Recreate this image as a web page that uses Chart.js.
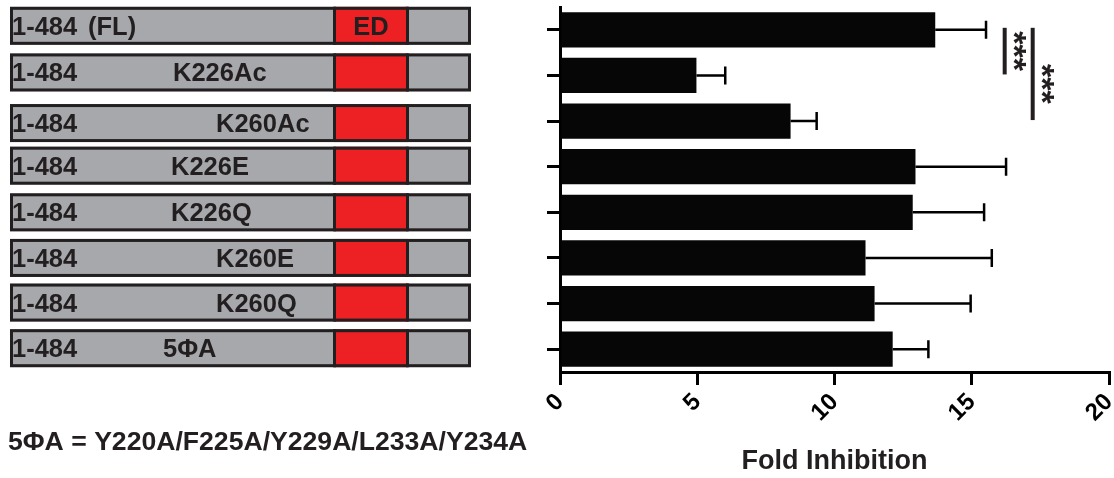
<!DOCTYPE html>
<html>
<head>
<meta charset="utf-8">
<script src="https://cdn.jsdelivr.net/npm/chart.js@4.4.0/dist/chart.umd.min.js"></script>
<style>
  html, body { margin: 0; padding: 0; background: #fff; }
</style>
</head>
<body>
<canvas id="graficoBarras" width="1114" height="478"></canvas>
<script>
// datos
var construcciones = ["FL", "K226Ac", "K260Ac", "K226E", "K226Q", "K260E", "K260Q", "5ΦA"];
var inhibicion = [13.67, 4.97, 8.40, 12.95, 12.85, 11.13, 11.46, 12.12];
var errorSup = [1.85, 1.05, 0.95, 3.3, 2.6, 4.6, 3.5, 1.3];
var ticksX = [0, 5, 10, 15, 20];
var comparaciones = [[0, 1, "***"], [0, 2, "***"]];
var nota = "5ΦA = Y220A/F225A/Y229A/L233A/Y234A";

var fuente = '"Liberation Sans", Arial, Helvetica, sans-serif';
var tinta = "#231f20";

// cajas de las construcciones a la izquierda
var diagrama = {
  id: "diagrama",
  afterDraw: function (chart) {
    var ctx = chart.ctx;
    var y = chart.scales.y;
    var desv = [-4, -3, 2, -1, 0, 0, -1, -1];
    var xMut = [0, 173, 216, 171, 171, 216, 216, 163];
    ctx.save();
    for (var i = 0; i < construcciones.length; i++) {
      var c = y.getPixelForValue(i) + desv[i];
      var h = 38, top = c - h / 2;
      ctx.fillStyle = "#a6a8ab";
      ctx.fillRect(10, top, 461, h);
      ctx.fillStyle = "#ed2024";
      ctx.fillRect(334, top, 74, h);
      ctx.strokeStyle = tinta;
      ctx.lineWidth = 3;
      ctx.strokeRect(11.5, top + 1.5, 458, h - 3);
      ctx.beginPath();
      ctx.moveTo(334.5, top); ctx.lineTo(334.5, top + h);
      ctx.moveTo(407.5, top); ctx.lineTo(407.5, top + h);
      ctx.stroke();

      ctx.fillStyle = tinta;
      ctx.font = "bold 25.5px " + fuente;
      ctx.textBaseline = "alphabetic";
      ctx.textAlign = "left";
      ctx.fillText("1-484", 12, c + 9);
      if (i === 0) {
        ctx.fillText("(" + construcciones[0] + ")", 88, c + 9);
        ctx.textAlign = "center";
        ctx.fillText("ED", 371, c + 9);
      } else {
        ctx.fillText(construcciones[i], xMut[i], c + 9);
      }
    }
    ctx.textAlign = "left";
    ctx.font = "bold 26.6px " + fuente;
    ctx.fillText(nota, 8, 450);
    ctx.restore();
  }
};

// barras de error y significancia
var errores = {
  id: "errores",
  afterDatasetsDraw: function (chart) {
    var ctx = chart.ctx, x = chart.scales.x, y = chart.scales.y;
    ctx.save();
    ctx.strokeStyle = "#000";
    ctx.lineWidth = 2.5;
    for (var i = 0; i < inhibicion.length; i++) {
      var yc = y.getPixelForValue(i);
      var x0 = x.getPixelForValue(inhibicion[i]);
      var x1 = x.getPixelForValue(inhibicion[i] + errorSup[i]);
      ctx.beginPath();
      ctx.moveTo(x0, yc); ctx.lineTo(x1, yc);
      ctx.moveTo(x1, yc - 9); ctx.lineTo(x1, yc + 9);
      ctx.stroke();
    }
    var xs = [16.2, 17.22];
    var dy = [0, 10];
    for (var k = 0; k < comparaciones.length; k++) {
      var a = y.getPixelForValue(comparaciones[k][0]) - 2;
      var b = y.getPixelForValue(comparaciones[k][1]) - 1;
      var xl = x.getPixelForValue(xs[k]);
      ctx.strokeStyle = tinta;
      ctx.lineWidth = 4;
      ctx.beginPath();
      ctx.moveTo(xl, a); ctx.lineTo(xl, b);
      ctx.stroke();
      ctx.save();
      ctx.translate(xl - 2, (a + b) / 2 + dy[k]);
      ctx.rotate(Math.PI / 2);
      ctx.fillStyle = tinta;
      ctx.font = "bold 34px " + fuente;
      ctx.textAlign = "center";
      ctx.textBaseline = "alphabetic";
      ctx.fillText(comparaciones[k][2], 0, 0);
      ctx.restore();
    }
    ctx.restore();
  }
};

new Chart(document.getElementById("graficoBarras"), {
  type: "bar",
  data: {
    labels: construcciones,
    datasets: [
      {
        label: "Fold Inhibition",
        data: inhibicion,
        backgroundColor: "#060606",
        borderWidth: 0,
        barPercentage: 0.77,
        categoryPercentage: 1.0
      }
    ]
  },
  options: {
    indexAxis: "y",
    responsive: false,
    animation: false,
    devicePixelRatio: 1,
    layout: { padding: { top: 7, right: 5, bottom: 0, left: 0 } },
    plugins: {
      legend: { display: false },
      tooltip: { enabled: false }
    },
    scales: {
      x: {
        min: 0,
        max: 20,
        afterBuildTicks: function (s) {
          s.ticks = ticksX.map(function (v) { return { value: v }; });
        },
        afterFit: function (s) {
          s.height = 106;
          s.paddingLeft = 0;
          s.paddingRight = 0;
        },
        ticks: {
          minRotation: 45,
          maxRotation: 45,
          padding: 3,
          color: "#000",
          font: { family: fuente, size: 24, weight: "bold" }
        },
        grid: {
          drawOnChartArea: false,
          drawTicks: true,
          tickLength: 13,
          tickWidth: 3,
          lineWidth: 3,
          color: "#000"
        },
        border: { display: true, width: 3, color: "#000" },
        title: {
          display: true,
          text: "Fold Inhibition",
          color: tinta,
          padding: { top: 0, bottom: 0 },
          font: { family: fuente, size: 27, weight: "bold" }
        }
      },
      y: {
        afterFit: function (s) { s.width = 560; },
        ticks: { display: false },
        grid: {
          offset: false,
          drawOnChartArea: false,
          drawTicks: true,
          tickLength: 13,
          tickWidth: 3,
          lineWidth: 3,
          color: "#000"
        },
        border: { display: true, width: 3, color: "#000" }
      }
    }
  },
  plugins: [diagrama, errores]
});
</script>
</body>
</html>
